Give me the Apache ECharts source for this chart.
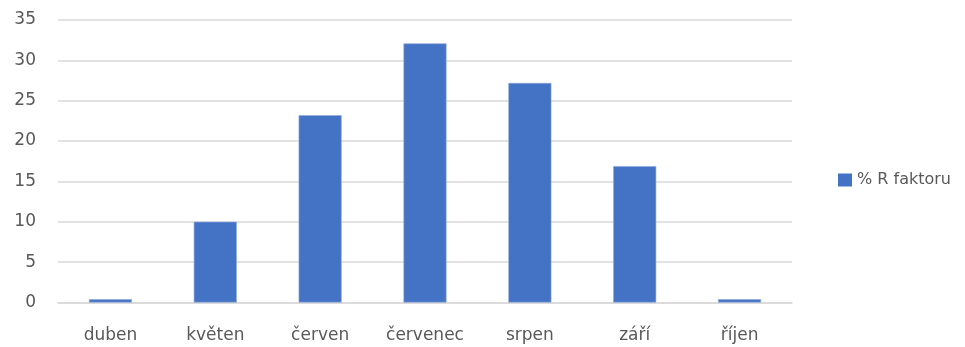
<!DOCTYPE html>
<html>
<head>
<meta charset="utf-8">
<script src="https://cdn.jsdelivr.net/npm/echarts@6/dist/echarts.min.js"></script>
<style>
  html, body { margin: 0; padding: 0; background: #ffffff; }
  #chart { width: 965px; height: 347px; }
</style>
</head>
<body>
<div id="chart"></div>
<script>
// Monthly share of the rainfall erosivity factor
const months = ['duben', 'květen', 'červen', 'červenec', 'srpen', 'září', 'říjen'];
const rFactorShare = [0.4, 10.0, 23.2, 32.1, 27.2, 16.9, 0.4];
const seriesName = '% R faktoru';

const textColor = '#595959';
const font = '"DejaVu Sans", "Open Sans", sans-serif';

const chart = echarts.init(document.getElementById('chart'), null, { renderer: 'canvas' });
chart.setOption({
  animation: false,
  backgroundColor: '#ffffff',
  grid: { left: 58, right: 173, top: 20, bottom: 44.5, containLabel: false },
  legend: {
    data: [seriesName],
    left: 833,
    top: 167,
    itemWidth: 14,
    itemHeight: 13,
    itemGap: 5,
    icon: 'rect',
    itemStyle: { borderWidth: 0 },
    textStyle: { color: textColor, fontSize: 16, fontFamily: font }
  },
  xAxis: {
    type: 'category',
    data: months,
    axisLine: { show: true, lineStyle: { color: '#d9d9d9', width: 1.5 } },
    axisTick: { show: false },
    axisLabel: { color: textColor, fontSize: 17, fontFamily: font, margin: 25 }
  },
  yAxis: {
    type: 'value',
    min: 0,
    max: 35,
    interval: 5,
    axisLine: { show: false },
    axisTick: { show: false },
    splitLine: { lineStyle: { color: '#d9d9d9', width: 1.5 } },
    axisLabel: { color: textColor, fontSize: 17, fontFamily: font, margin: 22 }
  },
  series: [{
    name: seriesName,
    type: 'bar',
    data: rFactorShare,
    barWidth: 43,
    itemStyle: { color: '#4472C4', borderColor: '#8fa9dc', borderWidth: 0.6 }
  }]
});
</script>
</body>
</html>
